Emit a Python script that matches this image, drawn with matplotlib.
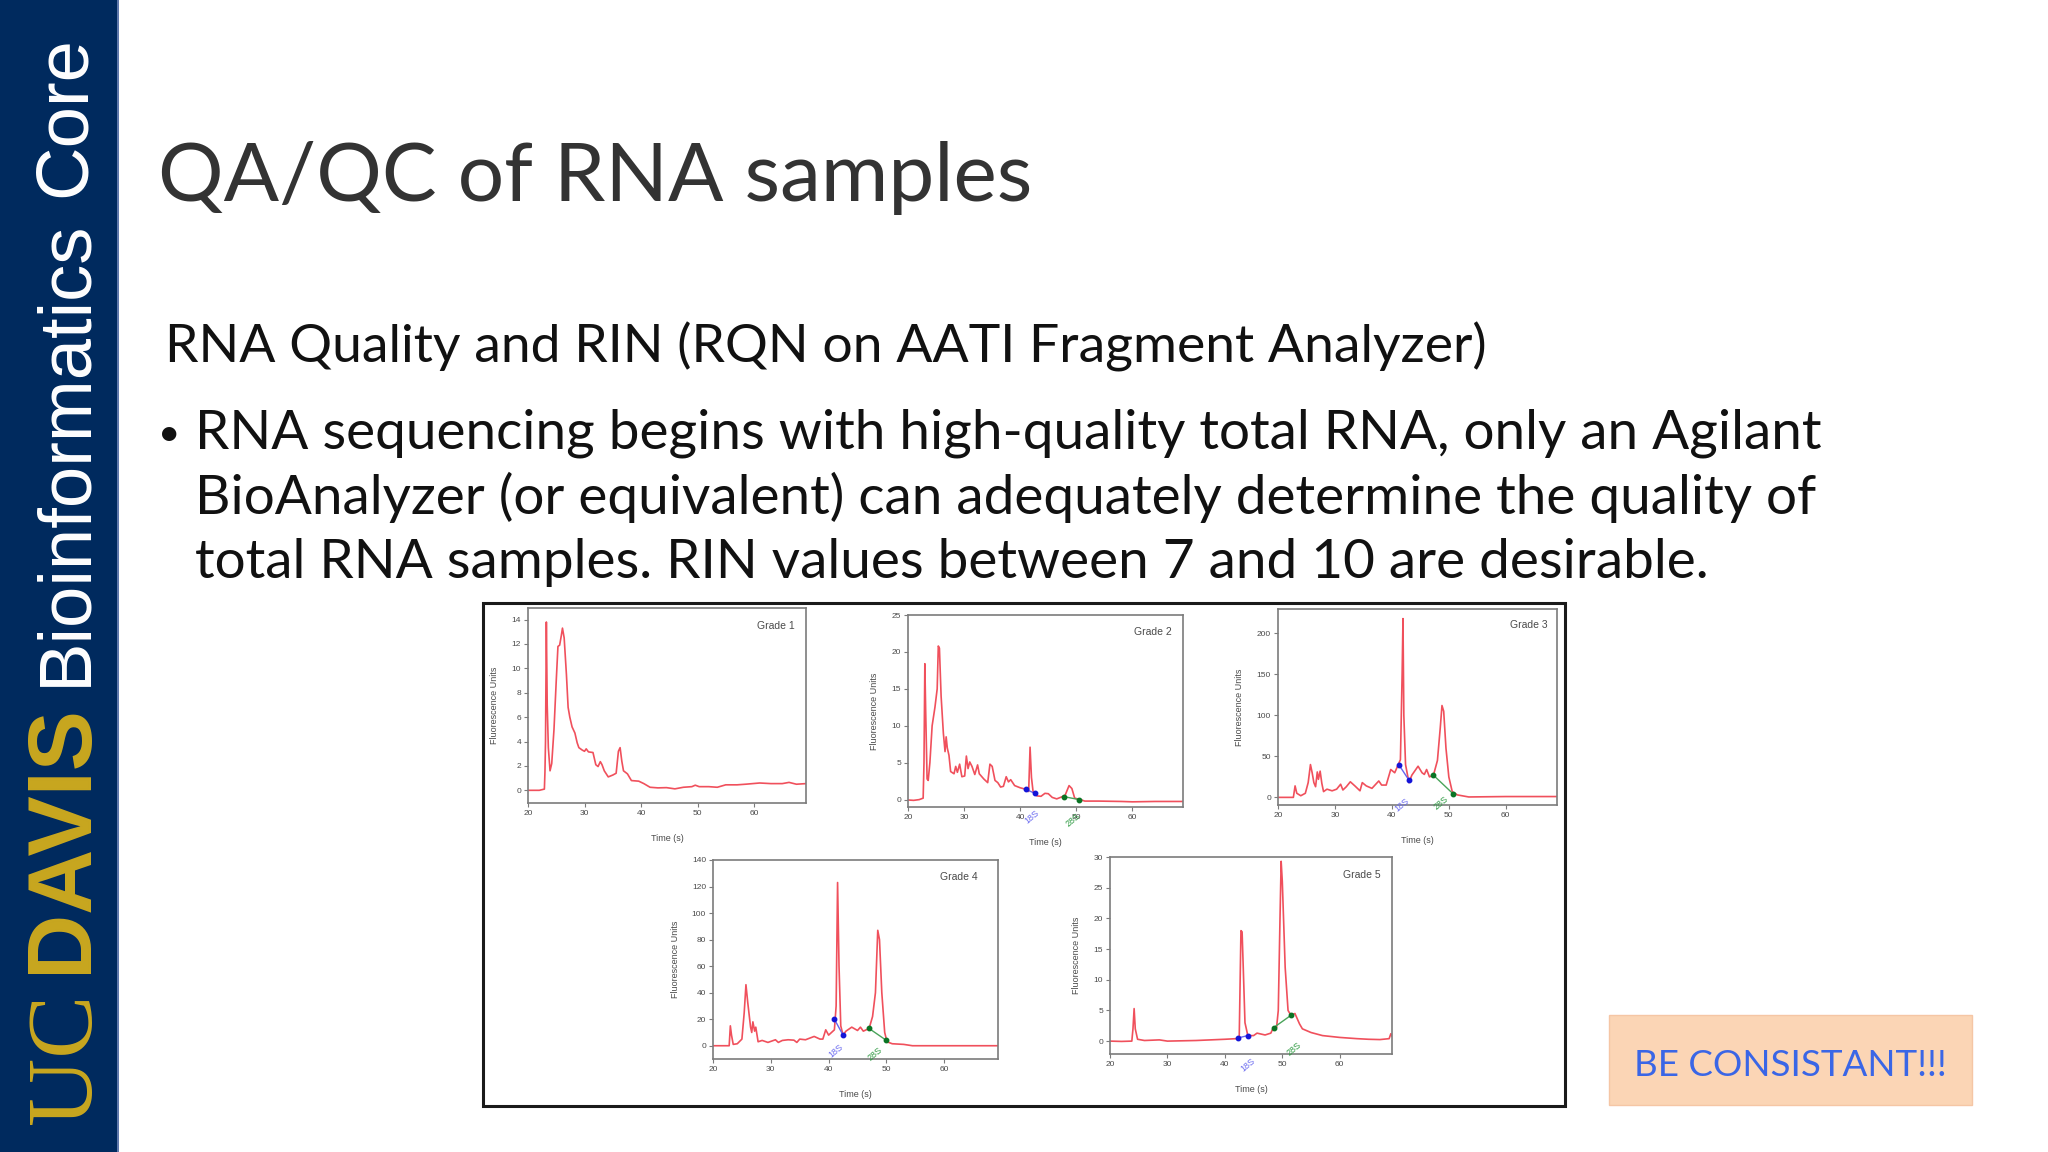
import matplotlib
matplotlib.use('Agg')
import matplotlib.pyplot as plt
from matplotlib.patches import Rectangle

W, H = 2048, 1152

# trace values
grade1_time = [20, 21, 22, 22.9, 23.0, 23.1, 23.25, 23.4, 23.6, 23.9, 24.2, 24.6, 25, 25.3, 25.6, 25.9, 26.1, 26.4, 26.8, 27.1, 27.4, 27.8, 28.3, 28.7, 29, 29.6, 30, 30.3, 30.7, 31.5, 32, 32.4, 32.8, 33.1, 33.5, 34.2, 35, 35.6, 36, 36.3, 36.6, 36.9, 37.6, 38.3, 39.6, 40.5, 41.6, 43, 44.5, 46, 47.5, 49, 49.6, 50.3, 52, 53.5, 55, 57, 58.5, 61, 63, 65, 66.2, 67.5, 69.2]
grade1_signal = [0, 0, 0, 0.1, 1.5, 4, 13.8, 7, 3.5, 1.6, 2.2, 5, 9, 11.8, 11.9, 12.7, 13.3, 12.5, 9.5, 6.8, 6, 5.2, 4.7, 3.9, 3.5, 3.3, 3.2, 3.4, 3.15, 3.1, 2.1, 1.95, 2.35, 2.1, 1.6, 1.1, 1.25, 1.4, 3.2, 3.5, 2.4, 1.6, 1.35, 0.8, 0.75, 0.55, 0.25, 0.2, 0.22, 0.12, 0.25, 0.3, 0.42, 0.3, 0.3, 0.25, 0.45, 0.45, 0.5, 0.6, 0.55, 0.55, 0.65, 0.5, 0.55]

grade2_time = [20, 21, 22, 22.7, 22.85, 23, 23.15, 23.4, 23.6, 23.9, 24.3, 24.8, 25.2, 25.4, 25.6, 25.9, 26.3, 26.6, 26.8, 27, 27.3, 27.6, 28.2, 28.5, 28.8, 29.2, 29.6, 30.1, 30.4, 30.7, 31, 31.4, 31.9, 32.4, 32.7, 33.5, 34.2, 34.6, 35, 35.5, 36, 36.5, 37, 37.5, 37.9, 38.3, 39, 40, 41, 41.5, 41.75, 42, 42.3, 43, 43.7, 44.4, 45, 45.7, 46.5, 47.5, 48, 48.7, 49.2, 49.7, 50.7, 51.5, 54, 58, 60, 64, 69]
grade2_signal = [-0.05, -0.1, 0, 0.2, 5, 18.4, 12, 2.8, 2.6, 5, 10, 12.5, 15, 20.8, 20.5, 14, 9, 6.5, 8.5, 7, 6, 3.8, 3.5, 4.5, 3.7, 4.8, 3.1, 3.2, 5.9, 4.2, 5.1, 4.5, 3.4, 4.7, 3.5, 2.8, 2.3, 4.8, 4.5, 2.6, 2.3, 1.7, 1.8, 3.1, 2.4, 2.7, 1.9, 1.6, 1.4, 1.1, 7.1, 3, 1.0, 0.5, 0.45, 0.85, 0.8, 0.3, 0.1, 0.4, 0.6, 1.9, 1.5, 0.2, 0, -0.2, -0.2, -0.25, -0.3, -0.25, -0.25]

grade3_time = [20, 22.7, 23, 23.3, 24, 24.8, 25.3, 25.7, 26, 26.3, 26.6, 26.9, 27.1, 27.4, 27.7, 28, 28.6, 29.5, 30.3, 31, 31.4, 32, 32.7, 33.5, 34.4, 34.8, 35.5, 36.5, 37.7, 38.2, 39, 39.8, 40.5, 41, 41.5, 41.8, 41.95, 42.1, 42.4, 43, 43.5, 44.6, 45.3, 45.7, 46.1, 46.6, 47.3, 48, 48.5, 48.8, 49.1, 49.5, 50, 50.6, 51.5, 53.5, 60, 69]
grade3_signal = [0, 0, 14, 5, 2, 5, 18, 40, 30, 18, 13, 31, 22, 32, 17, 7, 10, 8, 10, 16, 9, 13, 19, 14, 8, 18, 14, 11, 20, 15, 15, 34, 30, 38, 46, 150, 218, 100, 40, 18, 27, 38, 30, 28, 34, 25, 27, 45, 85, 112, 105, 60, 25, 7, 3, 0.5, 1, 1]

grade4_time = [20, 22.8, 23, 23.2, 23.5, 24.2, 25, 25.4, 25.7, 26, 26.5, 26.7, 26.9, 27.2, 27.4, 27.8, 28.5, 29.5, 30.8, 31.3, 32, 33, 34, 34.5, 35, 36, 37.5, 38.5, 39, 39.5, 40, 41, 41.3, 41.55, 41.8, 42.1, 42.5, 43, 44, 45, 45.5, 46, 47, 47.6, 48.1, 48.5, 48.8, 49.2, 49.7, 50.1, 51, 53, 54.5, 69.3]
grade4_signal = [0, 0, 15, 8, 1, 1.5, 5, 25, 46, 33, 14, 10, 18, 11, 14, 3, 4, 2.5, 4.5, 2.5, 4, 4.5, 4.2, 2.5, 5, 4.5, 7, 5, 5, 12, 8, 12, 30, 123, 60, 15, 8, 11, 14, 11.5, 14, 11, 13, 22, 40, 87, 80, 40, 10, 3, 1.5, 1, 0, 0]

grade5_time = [20, 22, 23.8, 24, 24.2, 24.4, 24.8, 26, 28.6, 30, 35, 40, 42, 42.5, 42.8, 43, 43.2, 43.5, 44, 45, 45.6, 47, 48, 48.5, 49, 49.3, 49.6, 49.8, 50, 50.5, 51, 51.5, 52.2, 53, 53.5, 55, 57, 60, 63, 65, 67, 68.6, 68.9, 69.1]
grade5_signal = [0, -0.05, 0, 2, 5.3, 2, 0.3, 0.1, 0.2, 0, 0.1, 0.3, 0.4, 0.6, 18, 17.8, 12, 3, 0.9, 0.9, 1.3, 1, 1.3, 2.3, 2.2, 5, 20, 29.3, 26, 12, 5, 4.2, 4.5, 2.8, 2, 1.4, 0.9, 0.6, 0.4, 0.3, 0.25, 0.4, 1.2, 0.8]

# 18S / 28S integration limits
grade2_18s = ([41, 42.6], [1.4, 0.85])
grade2_28s = ([47.8, 50.5], [0.4, 0])
grade3_18s = ([41.2, 43], [40, 21])
grade3_28s = ([47.3, 50.8], [27, 4])
grade4_18s = ([41, 42.5], [20, 8])
grade4_28s = ([47, 50], [13, 4])
grade5_18s = ([42.2, 44], [0.5, 0.9])
grade5_28s = ([48.5, 51.5], [2.2, 4.2])

title_text = 'QA/QC of RNA samples'
heading_text = 'RNA Quality and RIN (RQN on AATI Fragment Analyzer)'
bullet_lines = ['RNA sequencing begins with high-quality total RNA, only an Agilant',
                'BioAnalyzer (or equivalent) can adequately determine the quality of',
                'total RNA samples. RIN values between 7 and 10 are desirable.']

SLIDE_FONT = ['Lato', 'DejaVu Sans']
PLOT_FONT = ['Liberation Sans', 'DejaVu Sans']
NAVY = '#002a5e'
GOLD = '#c9a71f'
TRACE = '#f0505c'
GREY = '#7c7c7c'
LABEL = '#4a4a4a'

fig = plt.figure(figsize=(W / 100, H / 100), dpi=100, facecolor='white')

# the slide itself, in pixels
slide = fig.add_axes([0, 0, 1, 1])
slide.set_xlim(0, W)
slide.set_ylim(H, 0)
slide.axis('off')

slide.add_patch(Rectangle((0, 0), 118, H, facecolor=NAVY, edgecolor='none'))
slide.add_patch(Rectangle((117, 0), 2, H, facecolor='#5f78ab', edgecolor='none'))


def side_text(x, y, text, size, color, family, weight='normal'):
    slide.text(x, y, text, rotation=90, rotation_mode='anchor', ha='left', va='baseline',
               fontsize=size, color=color, family=family, fontweight=weight)


side_text(90, 1124, 'UC', 68, GOLD, ['Liberation Serif'])
side_text(86, 973, 'DAVIS', 65, GOLD, ['Liberation Sans'], 'bold')
side_text(85, 686, 'Bioinformatics', 53.5, 'white', ['Liberation Sans'])
side_text(85, 197, 'Core', 53.5, 'white', ['Liberation Sans'])

slide.text(158, 201, title_text, fontsize=59, color='#333333', family=SLIDE_FONT,
           fontweight='normal', va='baseline')
slide.text(165, 362, heading_text, fontsize=38.5, color='#111111', family=SLIDE_FONT, va='baseline')
slide.text(158, 445, '\u2022', fontsize=28, color='#111111', family=SLIDE_FONT, va='baseline')
for line, base in zip(bullet_lines, [449, 514, 578]):
    slide.text(195, base, line, fontsize=39.5, color='#111111', family=SLIDE_FONT, va='baseline')

# pasted picture frame
slide.add_patch(Rectangle((483, 603), 1082, 503, facecolor='white', edgecolor='#1a1a1a', linewidth=2.2))

# call-out box
slide.add_patch(Rectangle((1609, 1015), 363, 90, facecolor='#fbd5b5', edgecolor='#f5c6a5', linewidth=1))
slide.text(1790.5, 1065, 'BE CONSISTANT!!!', fontsize=26.5, color='#3a66e6', family=SLIDE_FONT,
           ha='center', va='center')


def panel(left, top, right, bottom, xmax, ylim, yticks, time, signal, grade, grade_xy,
          ylabel_x, low=None, high=None, low_label=None, high_label=None):
    ax = fig.add_axes([left / W, 1 - bottom / H, (right - left) / W, (bottom - top) / H])
    ax.plot(time, signal, color=TRACE, linewidth=1.2, solid_joinstyle='round')
    ax.set_xlim(20, xmax)
    ax.set_ylim(*ylim)
    ax.set_xticks([20, 30, 40, 50, 60])
    ax.set_yticks(yticks)
    ax.tick_params(length=3, width=0.8, color=GREY, labelsize=6, labelcolor=LABEL, pad=2)
    for lab in ax.get_xticklabels() + ax.get_yticklabels():
        lab.set_family(PLOT_FONT)
    for sp in ax.spines.values():
        sp.set_color(GREY)
        sp.set_linewidth(1.2)
    ax.set_xlabel('Time (s)', fontsize=6.5, color=LABEL, family=PLOT_FONT)
    ax.xaxis.set_label_coords(0.5, -31 / (bottom - top), transform=ax.transAxes)
    ax.set_ylabel('Fluorescence Units', fontsize=6.5, color=LABEL, family=PLOT_FONT)
    ax.yaxis.set_label_coords(-ylabel_x / (right - left), 0.5, transform=ax.transAxes)
    ax.text(grade_xy[0], grade_xy[1], grade, transform=ax.transAxes, ha='right', va='center',
            fontsize=7.5, color=LABEL, family=PLOT_FONT)
    if low is not None:
        ax.plot(low[0], low[1], color='#6464ee', linewidth=1.0, marker='o', markersize=3.2,
                markerfacecolor='#1414d8', markeredgecolor='#1414d8', clip_on=False)
        ax.plot(high[0], high[1], color='#4aa45a', linewidth=1.0, marker='o', markersize=3.2,
                markerfacecolor='#0a7424', markeredgecolor='#0a7424', clip_on=False)
        ax.text(low_label[0], low_label[1], '18S', rotation=40, ha='center', va='center', clip_on=False,
                fontsize=6.5, color='#6a6af0', family=PLOT_FONT)
        ax.text(high_label[0], high_label[1], '28S', rotation=40, ha='center', va='center', clip_on=False,
                fontsize=6.5, color='#2e9a42', family=PLOT_FONT)
    return ax


panel(528, 608, 806, 803, 69.2, (-1.04, 14.95), range(0, 15, 2), grade1_time, grade1_signal,
      'Grade 1', (0.96, 0.91), 29)
panel(908, 615, 1183, 807, 69.0, (-1.0, 25), range(0, 26, 5), grade2_time, grade2_signal,
      'Grade 2', (0.96, 0.91), 29, grade2_18s, grade2_28s, (42.1, -2.3), (49.5, -2.8))
panel(1278, 609, 1557, 805, 69.0, (-9.3, 229.7), range(0, 201, 50), grade3_time, grade3_signal,
      'Grade 3', (0.965, 0.92), 34, grade3_18s, grade3_28s, (41.8, -9), (48.6, -6.5))
panel(713, 860, 998, 1059, 69.3, (-10, 140), range(0, 141, 20), grade4_time, grade4_signal,
      'Grade 4', (0.93, 0.915), 33, grade4_18s, grade4_28s, (41.2, -4), (48, -6))
panel(1110, 857, 1392, 1054, 69.1, (-2.1, 30), range(0, 31, 5), grade5_time, grade5_signal,
      'Grade 5', (0.96, 0.91), 29, grade5_18s, grade5_28s, (44, -3.9), (52, -1.2))

fig.savefig('out.png', dpi=100)
